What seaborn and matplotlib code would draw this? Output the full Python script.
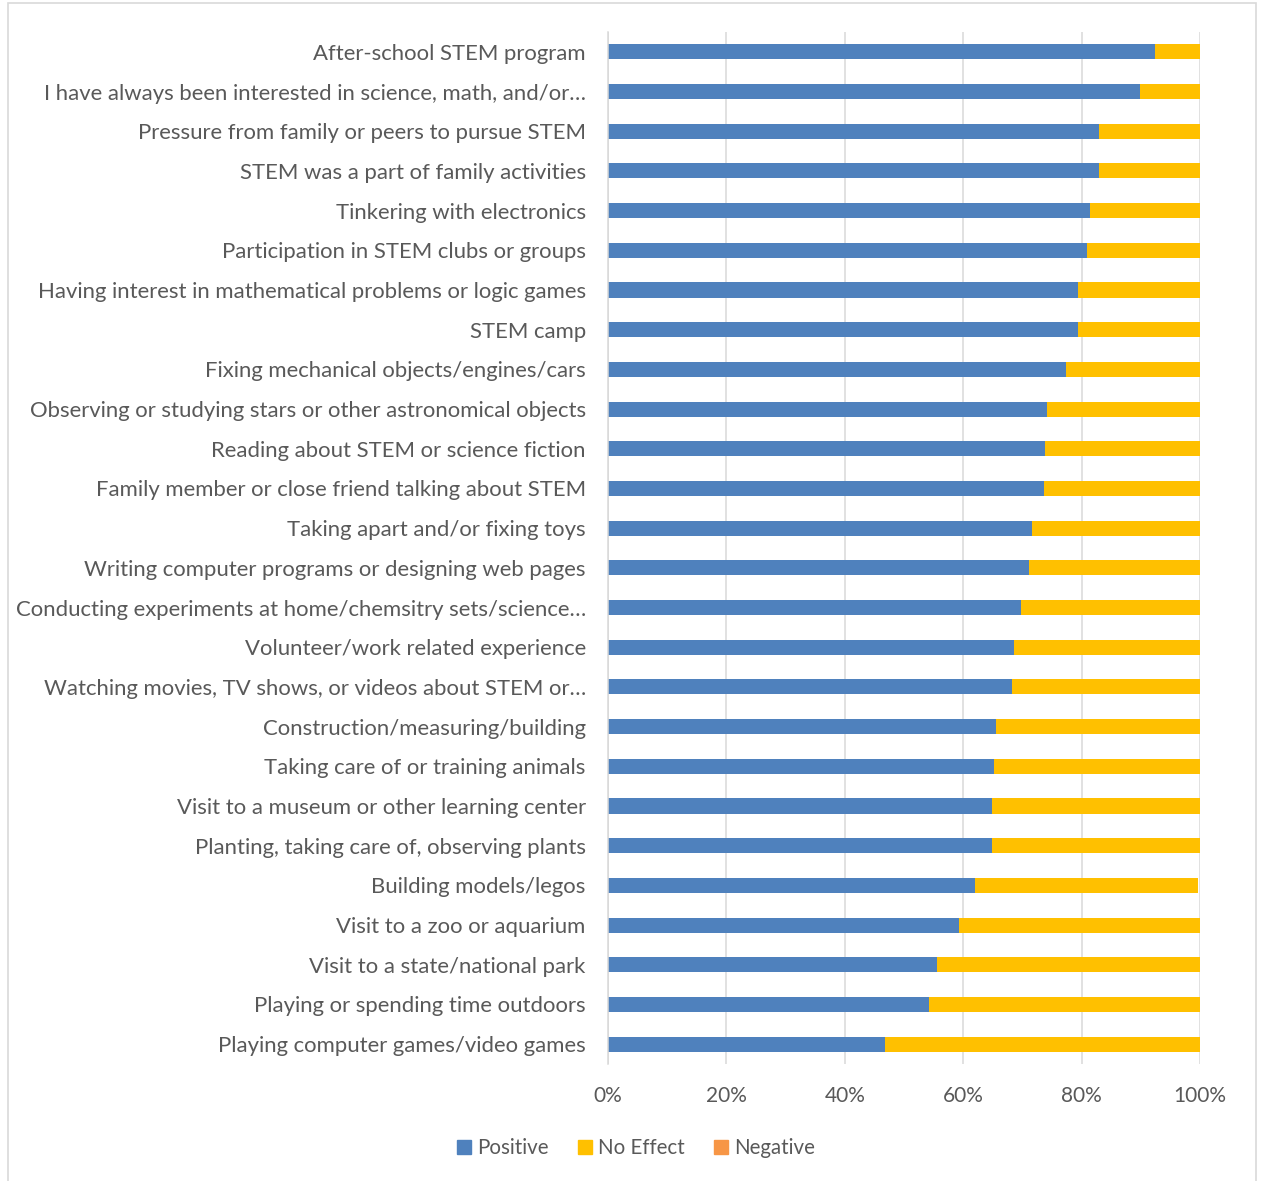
import matplotlib
matplotlib.use("Agg")
import matplotlib.pyplot as plt
import matplotlib.patches as mpatches
import seaborn as sns
import pandas as pd

categories = [
    "After-school STEM program",
    "I have always been interested in science, math, and/or\u2026",
    "Pressure from family or peers to pursue STEM",
    "STEM was a part of family activities",
    "Tinkering with electronics",
    "Participation in STEM clubs or groups",
    "Having interest in mathematical problems or logic games",
    "STEM camp",
    "Fixing mechanical objects/engines/cars",
    "Observing or studying stars or other astronomical objects",
    "Reading about STEM or science fiction",
    "Family member or close friend talking about STEM",
    "Taking apart and/or fixing toys",
    "Writing computer programs or designing web pages",
    "Conducting experiments at home/chemsitry sets/science\u2026",
    "Volunteer/work related experience",
    "Watching movies, TV shows, or videos about STEM or\u2026",
    "Construction/measuring/building",
    "Taking care of or training animals",
    "Visit to a museum or other learning center",
    "Planting, taking care of, observing plants",
    "Building models/legos",
    "Visit to a zoo or aquarium",
    "Visit to a state/national park",
    "Playing or spending time outdoors",
    "Playing computer games/video games",
]

positive = [92.4, 89.9, 83.0, 82.9, 81.4, 80.9, 79.4, 79.4, 77.3, 74.1, 73.8, 73.6, 71.7,
            71.1, 69.7, 68.6, 68.3, 65.5, 65.2, 64.8, 64.8, 62.0, 59.3, 55.6, 54.2, 46.8]
no_effect = [7.6, 10.1, 17.0, 17.1, 18.6, 19.1, 20.6, 20.6, 22.7, 25.9, 26.2, 26.4, 28.3,
             28.9, 30.3, 31.4, 31.7, 34.5, 34.8, 35.2, 35.2, 37.6, 40.7, 44.4, 45.8, 53.2]
negative = [0.0] * len(categories)

series_names = ["Positive", "No Effect", "Negative"]
series_colors = ["#4F81BD", "#FFC000", "#F79646"]
tick_values = [0, 20, 40, 60, 80, 100]
tick_labels = ["0%", "20%", "40%", "60%", "80%", "100%"]

df = pd.DataFrame({
    "category": categories,
    "Positive": positive,
    "No Effect": no_effect,
    "Negative": negative,
})
df["cum_pos"] = df["Positive"]
df["cum_noeff"] = df["Positive"] + df["No Effect"]
df["cum_neg"] = df["cum_noeff"] + df["Negative"]

sns.set_theme(style="white")
plt.rcParams["font.family"] = ["Lato", "DejaVu Sans"]

fig = plt.figure(figsize=(12.62, 11.81), dpi=100)
ax = fig.add_axes([608 / 1262, 117 / 1181, 592 / 1262, 1032 / 1181])

ax.set_axisbelow(True)
for v in tick_values:
    ax.axvline(v, color="#D9D9D9", lw=1.1, zorder=0)

bar_w = 0.38
# Stacked bars: draw cumulative totals back to front
for col, color in [("cum_neg", series_colors[2]), ("cum_noeff", series_colors[1]),
                   ("cum_pos", series_colors[0])]:
    sns.barplot(data=df, y="category", x=col, orient="h", color=color,
                width=bar_w, saturation=1, ax=ax, linewidth=0, zorder=2)

ax.set_xlim(0, 100)
ax.set_ylim(len(categories) - 0.5, -0.5)
ax.set_xticks(tick_values)
ax.set_xticklabels(tick_labels)
ax.set_xlabel("")
ax.set_ylabel("")
ax.tick_params(axis="both", length=0, colors="#595959")
ax.tick_params(axis="x", pad=16, labelsize=15)
ax.tick_params(axis="y", pad=16, labelsize=15.9)
for s in ["top", "right", "bottom"]:
    ax.spines[s].set_visible(False)
ax.spines["left"].set_visible(True)
ax.spines["left"].set_color("#D9D9D9")
ax.spines["left"].set_linewidth(1.1)

handles = [mpatches.Patch(color=c, label=n) for n, c in zip(series_names, series_colors)]
fig.legend(handles=handles, loc="center", bbox_to_anchor=(636 / 1262, 1 - 1148 / 1181),
           ncol=3, frameon=False, fontsize=14.8, handlelength=0.7, handleheight=0.7,
           handletextpad=0.3, columnspacing=1.4, labelcolor="#595959")

border = mpatches.Rectangle((8 / 1262, -0.02), 1248 / 1262, 1 - 3 / 1181 + 0.02,
                            transform=fig.transFigure, fill=False, edgecolor="#D9D9D9",
                            lw=1.2, clip_on=False)
fig.patches.append(border)

fig.savefig("out.png", dpi=100, facecolor="white")
